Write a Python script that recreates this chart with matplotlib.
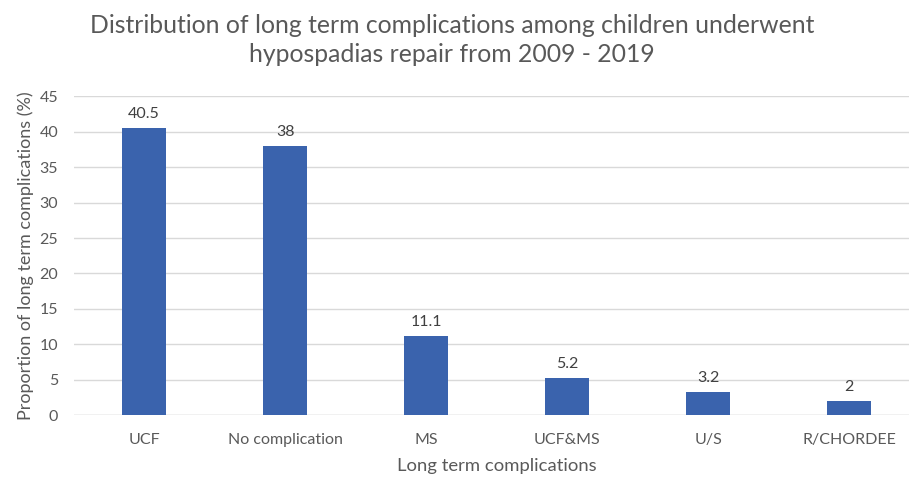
import matplotlib.pyplot as plt

categorias = ["UCF", "No complication", "MS", "UCF&MS", "U/S", "R/CHORDEE"]
valores = [40.5, 38, 11.1, 5.2, 3.2, 2]
rotulos = ["40.5", "38", "11.1", "5.2", "3.2", "2"]
yticks = [0, 5, 10, 15, 20, 25, 30, 35, 40, 45]

cor_barra = "#3A63AD"
cor_texto = "#595959"
plt.rcParams["font.family"] = ["Lato", "DejaVu Sans"]

fig = plt.figure(figsize=(9.09, 4.79), dpi=100)
ax = fig.add_axes([0.0809, 0.1336, 0.9307, 0.665])

x = list(range(len(categorias)))
ax.bar(x, valores, width=0.31, color=cor_barra, zorder=3)
for xi, v, r in zip(x, valores, rotulos):
    ax.annotate(r, (xi, v), xytext=(0, 5), textcoords="offset points",
                ha="center", va="bottom", fontsize=11.5, color="#404040")

ax.set_xlim(-0.5, len(categorias) - 0.5)
ax.set_ylim(0, 45)
ax.set_yticks(yticks)
ax.yaxis.grid(True, color="#D9D9D9", linewidth=1, zorder=0)
ax.set_xticks(x)
ax.set_xticklabels(categorias)
ax.tick_params(axis="both", length=0, labelsize=11.5, colors=cor_texto)
ax.tick_params(axis="x", pad=13)
ax.tick_params(axis="y", pad=11)
for s in ax.spines.values():
    s.set_visible(False)
ax.axhline(0, color="#D9D9D9", linewidth=1, zorder=2)

ax.set_xlabel("Long term complications", fontsize=13.3, color=cor_texto, labelpad=8)
ax.set_ylabel("Proportion of long term complications (%)", fontsize=13,
              color=cor_texto, labelpad=4)

fig.text(0.497, 0.97, "Distribution of long term complications among children underwent\n"
         "hypospadias repair from 2009 - 2019", ha="center", va="top",
         fontsize=17.8, color=cor_texto, linespacing=1.3)

fig.savefig("out.png", dpi=100)
